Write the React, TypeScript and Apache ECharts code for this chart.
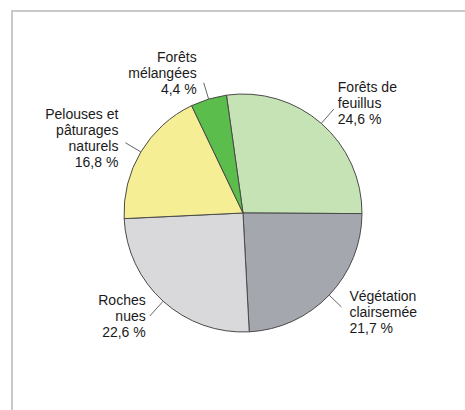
import React, { useEffect, useRef } from "react";
import * as echarts from "echarts";

const categories = [
  "Forêts de\nfeuillus",
  "Végétation\nclairsemée",
  "Roches\nnues",
  "Pelouses et\npâturages\nnaturels",
  "Forêts\nmélangées",
];
const values = [24.6, 21.7, 22.6, 16.8, 4.4];

const colors = ["#c6e3b5", "#a4a7ae", "#d9d9db", "#f6ee94", "#5bbd4b"];
const lineLengths = [19, 17, 20, 18, 17];
const labelDistances = [4, 8, 4, 7, 7];
// vertical nudge of each label block (negative = up), done with spacer lines
const labelShift = [-6, 5, 0, -5, -10];

function formatValue(v: number) {
  return v.toFixed(1).replace(".", ",") + " %";
}

export default function App() {
  const ref = useRef<HTMLDivElement>(null);
  useEffect(() => {
    if (!ref.current) return;
    const chart = echarts.init(ref.current, null, { renderer: "svg" });
    const data = categories.map((name, i) => ({
      name,
      value: values[i],
      itemStyle: { color: colors[i] },
      label: {
        distanceToLabelLine: labelDistances[i],
        formatter: (p: any) => {
          const body = p.name + "\n" + formatValue(Number(p.value));
          const s = labelShift[i];
          if (s < 0) return body + "\n{g| }";
          if (s > 0) return "{g| }\n" + body;
          return body;
        },
        rich: {
          g: {
            fontSize: 2,
            lineHeight: Math.abs(labelShift[i]) * 2,
            height: Math.abs(labelShift[i]) * 2,
          },
        },
      },
      labelLine: { length: lineLengths[i], length2: 0 },
    }));
    chart.setOption({
      animation: false,
      backgroundColor: "#ffffff",
      graphic: [
        {
          type: "polyline",
          shape: {
            points: [
              [12, 470],
              [12, 11],
              [700, 11],
            ],
          },
          style: { fill: "none", stroke: "#c9c9c9", lineWidth: 2 },
          silent: true,
        },
      ],
      series: [
        {
          type: "pie",
          center: [243, 213],
          radius: 119,
          startAngle: 98,
          clockwise: true,
          avoidLabelOverlap: false,
          data,
          itemStyle: { borderColor: "#4a4a4a", borderWidth: 1 },
          label: {
            show: true,
            position: "outside",
            fontFamily: "'Liberation Sans', Arial, sans-serif",
            fontSize: 14,
            lineHeight: 16,
            color: "#1a1a1a",
          },
          labelLine: {
            show: true,
            lineStyle: { color: "#666666", width: 1 },
          },
          emphasis: { disabled: true },
        },
      ],
    });
    return () => chart.dispose();
  }, []);
  return (
    <div
      ref={ref}
      style={{ position: "fixed", left: 0, top: 0, width: 465, height: 410 }}
    />
  );
}
